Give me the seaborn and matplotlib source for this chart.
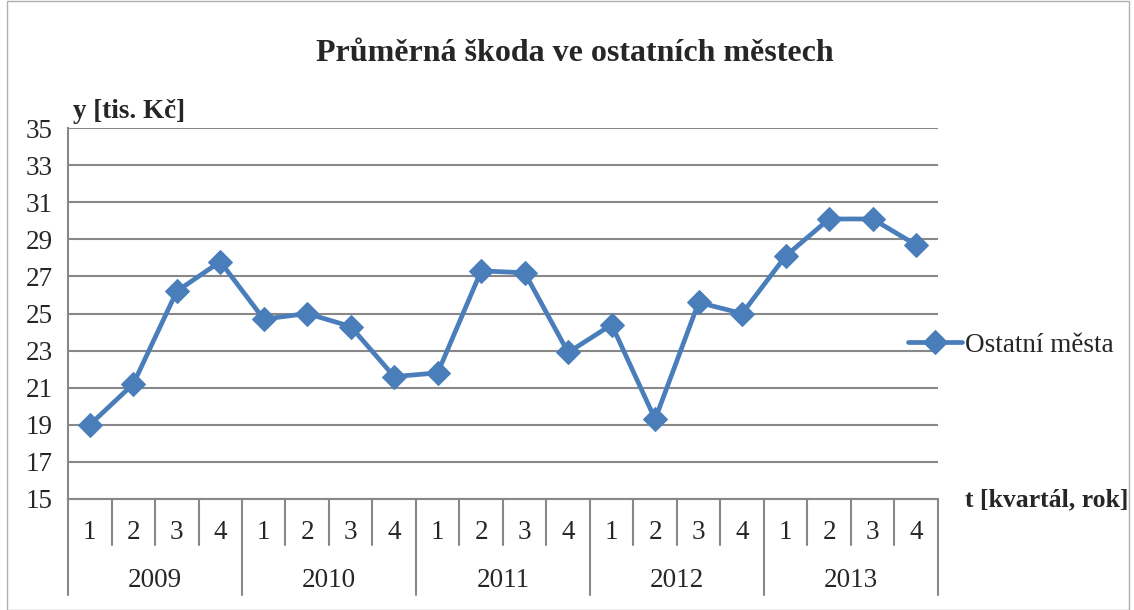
import pandas as pd
import matplotlib.pyplot as plt
import seaborn as sns
from matplotlib.patches import Rectangle

years = ['2009', '2010', '2011', '2012', '2013']
quarters = ['1', '2', '3', '4']
values = [19.0, 21.2, 26.2, 27.8, 24.7, 25.0, 24.3, 21.6,
          21.8, 27.3, 27.2, 22.9, 24.4, 19.3, 25.6, 25.0,
          28.1, 30.1, 30.1, 28.7]

df = pd.DataFrame({
    'rok': [y for y in years for q in quarters],
    'kvartal': [q for y in years for q in quarters],
    'y': values,
})
df['t'] = range(len(df))

sns.set_style('white')
plt.rcParams['font.family'] = ['Liberation Serif', 'DejaVu Serif']

fig = plt.figure(figsize=(11.34, 6.10), dpi=100)
ax = fig.add_axes([0.060, 0.182, 0.767, 0.608])

blue = '#4a7ebb'
grid = '#888888'
fs = 19.5

sns.lineplot(data=df, x='t', y='y', ax=ax, color=blue, linewidth=3.4,
             marker='D', markersize=12, markeredgecolor=blue,
             label='Ostatní města')

ax.set_xlim(-0.5, len(df) - 0.5)
ax.set_ylim(15, 35)
ax.set_yticks(range(15, 36, 2))
ax.tick_params(axis='y', labelsize=fs, length=6, color=grid, width=1.2, pad=5)
ax.set_xticks([])
ax.set_xlabel('')
ax.set_ylabel('')
ax.yaxis.grid(True, color=grid, linewidth=1.5)
ax.set_axisbelow(True)
for s in ['top', 'right']:
    ax.spines[s].set_visible(False)
ax.spines['left'].set_color(grid)
ax.spines['left'].set_linewidth(1.5)
ax.spines['bottom'].set_color(grid)
ax.spines['bottom'].set_linewidth(1.5)

# category axis: quarters and years
trans = ax.get_xaxis_transform()
for i in range(len(df) + 1):
    x = i - 0.5
    low = -0.259 if i % 4 == 0 else -0.124
    ax.plot([x, x], [0, low], transform=trans, color=grid, lw=1.5,
            clip_on=False)
for i, row in df.iterrows():
    ax.text(row['t'], -0.09, row['kvartal'], transform=trans,
            ha='center', va='center', fontsize=fs)
for j, yr in enumerate(years):
    ax.text(j * 4 + 1.5, -0.22, yr, transform=trans,
            ha='center', va='center', fontsize=fs)

fig.text(0.507, 0.912, 'Průměrná škoda ve ostatních městech',
         ha='center', va='center', fontsize=23, fontweight='bold')
fig.text(0.064, 0.818, 'y [tis. Kč]', ha='left', va='center',
         fontsize=fs, fontweight='bold')
fig.text(0.851, 0.180, 't [kvartál, rok]', ha='left', va='center',
         fontsize=18.5, fontweight='bold')

leg = ax.legend(loc='center left', bbox_to_anchor=(0.966, 0.415),
                frameon=False, fontsize=fs, handlelength=2.0,
                handletextpad=0.1, borderaxespad=0, borderpad=0)

fig.patches.append(Rectangle((0.006, 0.0), 0.99, 0.999, transform=fig.transFigure,
                             fill=False, edgecolor='#b0b0b0', lw=1))

fig.savefig('out.png', dpi=100)
